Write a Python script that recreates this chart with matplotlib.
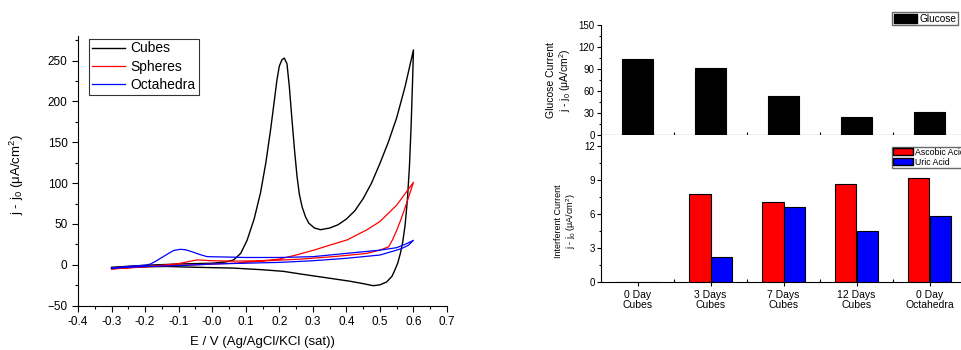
import matplotlib
matplotlib.use("Agg")
import matplotlib.pyplot as plt
from matplotlib.ticker import MultipleLocator, FixedLocator
from matplotlib.patches import Patch
import numpy as np

plt.rcParams['font.family'] = ['Liberation Sans', 'DejaVu Sans']
plt.rcParams['mathtext.fontset'] = 'custom'
plt.rcParams['mathtext.rm'] = 'Liberation Sans'
plt.rcParams['mathtext.it'] = 'Liberation Sans:italic'

# ---------------- CV data ----------------
cubes_E = [-0.30, -0.20, -0.10, 0.00, 0.04, 0.064, 0.085, 0.104, 0.125, 0.144, 0.16, 0.174, 0.185,
           0.193, 0.200, 0.208, 0.215, 0.223, 0.230, 0.238, 0.246, 0.253, 0.260, 0.268, 0.278,
           0.288, 0.305, 0.323, 0.350, 0.375, 0.400, 0.425, 0.450, 0.475, 0.500, 0.525, 0.550,
           0.575, 0.600,
           0.597, 0.593, 0.588, 0.582, 0.575, 0.568, 0.561, 0.553, 0.545, 0.536, 0.520, 0.500,
           0.480, 0.450, 0.410, 0.360, 0.310, 0.260, 0.213, 0.150, 0.064, -0.050, -0.135, -0.220, -0.300]
cubes_j = [-3, -0.5, 1, 2, 3.5, 6, 14, 30, 56, 88, 125, 165, 200,
           226, 243, 251, 253, 246, 218, 177, 138, 108, 86, 71, 59,
           51, 45, 43, 45, 49, 56, 66, 81, 100, 124, 150, 180,
           218, 263,
           220, 170, 120, 80, 48, 28, 14, 2, -6, -14, -21, -24.5,
           -25.5, -23, -20, -17, -14, -11, -8, -6, -4, -3, -2, -2.5, -4]

spheres_E = [-0.30, -0.20, -0.15, -0.10, -0.07, -0.045, -0.02, 0.00, 0.064, 0.15, 0.20, 0.25, 0.303,
             0.35, 0.402, 0.462, 0.500, 0.550, 0.600,
             0.588, 0.576, 0.563, 0.551, 0.538, 0.526, 0.500, 0.460, 0.400, 0.360, 0.263, 0.164,
             0.064, -0.050, -0.135, -0.220, -0.300]
spheres_j = [-5, -2, -0.5, 1.5, 4, 6, 5.5, 5, 4.5, 5, 7, 12, 18,
             24, 30.5, 43, 53, 73, 101,
             86, 71, 56, 43, 31, 22, 18, 14, 11.5, 10, 7, 5,
             2, 0, -1, -3, -5]

octa_E = [-0.30, -0.25, -0.20, -0.184, -0.17, -0.15, -0.13, -0.115, -0.095, -0.08, -0.06, -0.04,
          -0.015, 0.05, 0.10, 0.20, 0.30, 0.40, 0.50, 0.55, 0.58, 0.600,
          0.585, 0.565, 0.550, 0.500, 0.400, 0.300, 0.200, 0.100, 0.000, -0.100, -0.200, -0.300]
octa_j = [-4, -2, -0.5, 1, 4, 9, 14, 17.5, 19, 18.5, 16, 13,
          10, 9.5, 9, 9, 10, 14, 18, 21, 26, 30,
          24, 20, 18, 12, 8, 5, 3, 2, 1, -1, -2, -4]

# ---------------- Bar data ----------------
categories = ["0 Day\nCubes", "3 Days\nCubes", "7 Days\nCubes", "12 Days\nCubes", "0 Day\nOctahedra"]
glucose = [104, 92, 53, 25, 31]
ascorbic = [0, 7.73, 7.05, 8.64, 9.2]
uric = [0, 2.21, 6.61, 4.51, 5.84]

W, H = 961, 350
fig = plt.figure(figsize=(W / 100, H / 100), dpi=100)

def px_axes(l, t, r, b):
    return fig.add_axes([l / W, 1 - b / H, (r - l) / W, (b - t) / H])

# ---------------- Left CV plot ----------------
ax = px_axes(78, 36, 447, 305.7)
ax.plot(cubes_E, cubes_j, color='black', lw=1.0, label='Cubes')
ax.plot(spheres_E, spheres_j, color='#ff0000', lw=0.9, label='Spheres')
ax.plot(octa_E, octa_j, color='#0000ff', lw=0.9, label='Octahedra')
ax.set_xlim(-0.4, 0.7)
ax.set_ylim(-50, 280)
ax.spines['top'].set_visible(False)
ax.spines['right'].set_visible(False)
ax.xaxis.set_minor_locator(MultipleLocator(0.05))
ax.yaxis.set_major_locator(MultipleLocator(50))
ax.yaxis.set_minor_locator(MultipleLocator(25))
ax.tick_params(axis='both', which='major', labelsize=8.5, length=4, width=0.8, direction='out')
ax.tick_params(axis='both', which='minor', length=2.5, width=0.8, direction='out')
xt = np.round(np.arange(-0.4, 0.71, 0.1), 1)
ax.set_xticks(xt)
ax.set_xticklabels([f"{v:.1f}" for v in xt])
ax.set_xlabel("E / V (Ag/AgCl/KCl (sat))", fontsize=9.5, labelpad=6)
ax.set_ylabel("j - j$_0$ (μA/cm$^2$)", fontsize=9.5)
ax.yaxis.set_label_coords(-0.14, 0.485)
leg = ax.legend(loc='upper left', bbox_to_anchor=(0.03, 0.99), fontsize=10, frameon=True,
                fancybox=False, edgecolor='black', handlelength=2.4, borderpad=0.2,
                labelspacing=0.3, handletextpad=0.4, borderaxespad=0)
leg.get_frame().set_linewidth(0.8)

# ---------------- Right top bar (glucose) ----------------
x = np.arange(len(categories))
axt = px_axes(601, 25, 966, 135)
axt.bar(x, glucose, width=0.42, color='black', edgecolor='black', lw=0.8, label='Glucose')
axt.set_xlim(-0.5, 4.5)
axt.set_ylim(0, 150)
axt.spines['top'].set_visible(False)
axt.spines['right'].set_visible(False)
axt.yaxis.set_major_locator(MultipleLocator(30))
axt.yaxis.set_minor_locator(MultipleLocator(15))
axt.set_xticks(x)
axt.set_xticklabels([])
axt.xaxis.set_minor_locator(FixedLocator(x[:-1] + 0.5))
axt.tick_params(axis='y', which='major', labelsize=7, length=3, width=0.8, direction='out', pad=1.5)
axt.tick_params(axis='y', which='minor', length=1.8, width=0.8, direction='out')
axt.tick_params(axis='x', which='major', length=3, width=0.8, direction='out')
axt.tick_params(axis='x', which='minor', length=2, width=0.8, direction='in')
axt.set_ylabel("Glucose Current\nj - j$_0$ (μA/cm$^2$)", fontsize=7.5, linespacing=1.1)
axt.yaxis.set_label_coords(-0.078, 0.5)
l1 = fig.legend(handles=[Patch(facecolor='black', edgecolor='black', label='Glucose')],
                loc='upper left', bbox_to_anchor=(892 / W, 1 - 12 / H), fontsize=7.3,
                frameon=True, fancybox=False, edgecolor='#444444', handlelength=2.3,
                handleheight=1.1, borderpad=0.15, handletextpad=0.3, borderaxespad=0)
l1.get_frame().set_linewidth(1.0)

# ---------------- Right bottom bar (interferents) ----------------
axb = px_axes(601, 135, 966, 281.7)
bw = 0.3
axb.bar(x - bw / 2, ascorbic, width=bw, color='#ff0000', edgecolor='black', lw=0.8, label='Ascobic Acid')
axb.bar(x + bw / 2, uric, width=bw, color='#0000ff', edgecolor='black', lw=0.8, label='Uric Acid')
axb.set_xlim(-0.5, 4.5)
axb.set_ylim(0, 12.97)
axb.spines['top'].set_visible(False)
axb.spines['right'].set_visible(False)
axb.yaxis.set_major_locator(FixedLocator([0, 3, 6, 9, 12]))
axb.yaxis.set_minor_locator(FixedLocator([1.5, 4.5, 7.5, 10.5]))
axb.set_xticks(x)
axb.set_xticklabels(categories, fontsize=7.5, linespacing=1.05)
axb.xaxis.set_minor_locator(FixedLocator(x[:-1] + 0.5))
axb.tick_params(axis='y', which='major', labelsize=7, length=3, width=0.8, direction='out', pad=1.5)
axb.tick_params(axis='y', which='minor', length=1.8, width=0.8, direction='out')
axb.tick_params(axis='x', which='major', length=3, width=0.8, direction='out', pad=3)
axb.tick_params(axis='x', which='minor', length=2, width=0.8, direction='in')
axb.set_ylabel("Interferent Current\nj - j$_0$ (μA/cm$^2$)", fontsize=6.5, linespacing=1.15)
axb.yaxis.set_label_coords(-0.063, 0.414)
l2 = fig.legend(handles=[Patch(facecolor='#ff0000', edgecolor='black', label='Ascobic Acid'),
                         Patch(facecolor='#0000ff', edgecolor='black', label='Uric Acid')],
                loc='upper left', bbox_to_anchor=(892 / W, 1 - 146.5 / H), fontsize=6.3,
                frameon=True, fancybox=False, edgecolor='#444444', handlelength=2.2,
                handleheight=0.9, borderpad=0.15, labelspacing=0.1, handletextpad=0.3,
                borderaxespad=0)
l2.get_frame().set_linewidth(1.0)

fig.savefig("out.png", dpi=100)
